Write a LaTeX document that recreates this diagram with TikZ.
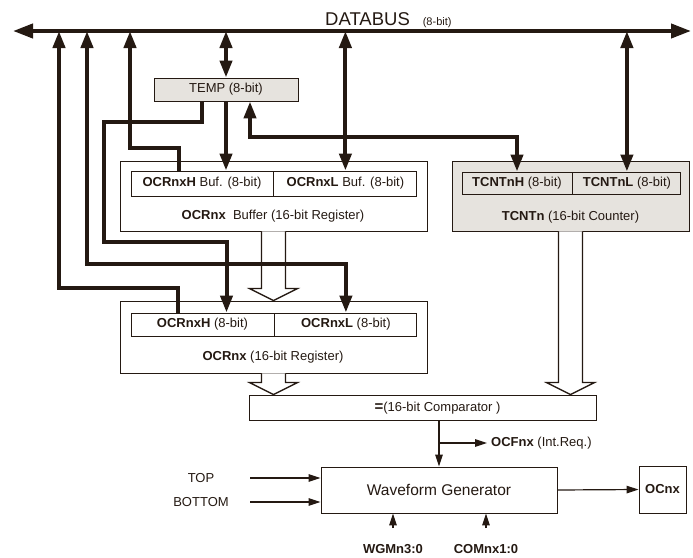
\documentclass[tikz,border=0pt]{standalone}
\usepackage{fontspec}
\setmainfont{Liberation Sans}
\usetikzlibrary{arrows.meta, positioning, calc}

\definecolor{ink}{RGB}{36,25,18}
\definecolor{regfill}{RGB}{230,227,222}

% hollow wide arrow from a box edge to a tip point
\newcommand{\fatarrow}[2]{%
  \draw[fat] ($(#1)+(-12,0)$) -- ($(#2)+(-12,-12)$) -- ($(#2)+(-24,-12)$) -- (#2)
    -- ($(#2)+(24,-12)$) -- ($(#2)+(12,-12)$) -- ($(#1)+(12,0)$);}

\begin{document}
\begin{tikzpicture}[x=1pt, y=-1pt, color=ink, font=\fontsize{13}{15}\selectfont,
    reg/.style={draw=ink, line width=0.9pt, inner sep=0pt},
    txt/.style={inner sep=0pt},
    fat/.style={draw=ink, line width=1.3pt, fill=white, line join=miter},
    wire/.style={draw=ink, line width=4pt, >={Triangle[length=17pt,width=12pt]}},
    bus/.style={draw=ink, line width=4pt, {Triangle[length=20pt,width=14pt]}-{Triangle[length=20pt,width=14pt]}},
    sig/.style={draw=ink, line width=1.2pt, -{Triangle[length=12pt,width=7.5pt]}}]
    \useasboundingbox (0,0) rectangle (693,557);

    % data bus
    \coordinate (busW) at (13,31);
    \coordinate (busE) at (691,31);
    \foreach \n/\x in {a/59, b/87, c/130} \coordinate (tap\n) at (\x,31);
    \node (dbus) [txt, anchor=base west] at (325,25) {{\fontsize{18.5}{20}\selectfont DATABUS}\hspace{13pt}{\fontsize{11}{12}\selectfont (8-bit)}};

    % registers
    \node (temp) [reg, fill=regfill, minimum width=144pt, minimum height=23pt] at (226,89.5) {TEMP (8-bit)};

    \node (buf) [reg, minimum width=307pt, minimum height=70pt] at (273.5,196) {};
    \node (bufH) [reg, minimum width=142pt, minimum height=25pt] at (202,183.5) {\textbf{OCRnxH} Buf. (8-bit)};
    \node (bufL) [reg, minimum width=143pt, minimum height=25pt, right=0pt of bufH] {\textbf{OCRnxL} Buf. (8-bit)};
    \node (bufname) [txt] at (273,216) {\textbf{OCRnx}\ \ Buffer (16-bit Register)};

    \node (tcnt) [reg, fill=regfill, minimum width=237pt, minimum height=70pt] at (570.5,196) {};
    \node (tcntH) [reg, minimum width=110pt, minimum height=22pt] at (517,183) {\textbf{TCNTnH} (8-bit)};
    \node (tcntL) [reg, minimum width=108pt, minimum height=22pt, right=0pt of tcntH] {\textbf{TCNTnL} (8-bit)};
    \node (tcntname) [txt] at (570.5,217) {\textbf{TCNTn} (16-bit Counter)};

    \node (ocr) [reg, minimum width=307pt, minimum height=72pt] at (273.5,337) {};
    \node (ocrH) [reg, minimum width=143pt, minimum height=23pt] at (202.5,324.5) {\textbf{OCRnxH} (8-bit)};
    \node (ocrL) [reg, minimum width=142pt, minimum height=23pt, right=0pt of ocrH] {\textbf{OCRnxL} (8-bit)};
    \node (ocrname) [txt] at (273,357) {\textbf{OCRnx} (16-bit Register)};

    \node (comp) [reg, minimum width=347pt, minimum height=25pt] at (422.5,407.5) {};
    \node (compname) [txt] at (437.5,408) {{\fontsize{15}{15}\selectfont\textbf{=}}(16-bit Comparator )};

    \node (wave) [reg, minimum width=236pt, minimum height=46pt, font=\fontsize{15.5}{18}\selectfont] at (439,490) {Waveform Generator};
    \node (ocnx) [reg, minimum width=47pt, minimum height=47pt] at (662.5,489.5) {\textbf{OCnx}};

    % labels
    \node (ocf) [txt, anchor=west] at (491,443) {\textbf{OCFnx} (Int.Req.)};
    \node (toplbl) [txt] at (201,478) {TOP};
    \node (botlbl) [txt] at (201,502) {BOTTOM};
    \node (wgm) [txt] at (393,549) {\textbf{WGMn3:0}};
    \node (com) [txt] at (486,549) {\textbf{COMnx1:0}};
    \coordinate (topin) at (250,478);
    \coordinate (botin) at (250,502);
    \coordinate (branch) at (wave.north |- ocf.west);

    % 16-bit transfers
    \fatarrow{buf.south}{buf.south |- ocr.north}
    \fatarrow{ocr.south}{ocr.south |- comp.north}
    \fatarrow{tcnt.south}{tcnt.south |- comp.north}

    % 8-bit paths
    \draw[bus] (busW) -- (busE);
    \draw[wire, <->] (temp.north |- busW) -- (temp.north);
    \draw[wire, ->] (temp.south) -- (temp.south |- bufH.north);
    \draw[wire, ->] ([xshift=-24pt]temp.south) -- ++(0,21) -- ++(-98,0) -- ++(0,120) -| ([xshift=24pt]ocrH.north);
    \draw[wire, <->] ([xshift=24pt]temp.south) -- ++(0,36) -| (tcntH.north);
    \draw[wire, <->] (bufL.north |- busW) -- (bufL.north);
    \draw[wire, <->] (tcntL.north |- busW) -- (tcntL.north);
    \draw[wire, ->] ([xshift=-23pt]bufH.north) -- ++(0,-23) -| (tapc);
    \draw[wire, ->] ([xshift=-24.5pt]ocrH.north) -- ++(0,-25) -| (tapa);
    \draw[wire, <->] (tapb) -- ++(0,233) -| (ocrL.north);

    % control signals
    \draw[sig] (comp.south -| wave.north) -- (wave.north);
    \draw[sig, shorten >=4pt] (branch) -- (ocf.west);
    \draw[sig] (topin) -- (topin -| wave.west);
    \draw[sig] (botin) -- (botin -| wave.west);
    \draw[sig] (wgm.north) ++(0,-16) -- (wgm.north |- wave.south);
    \draw[sig] (com.north) ++(0,-16) -- (com.north |- wave.south);
    \draw[sig] (wave.east) -- (ocnx.west);
\end{tikzpicture}
\end{document}
